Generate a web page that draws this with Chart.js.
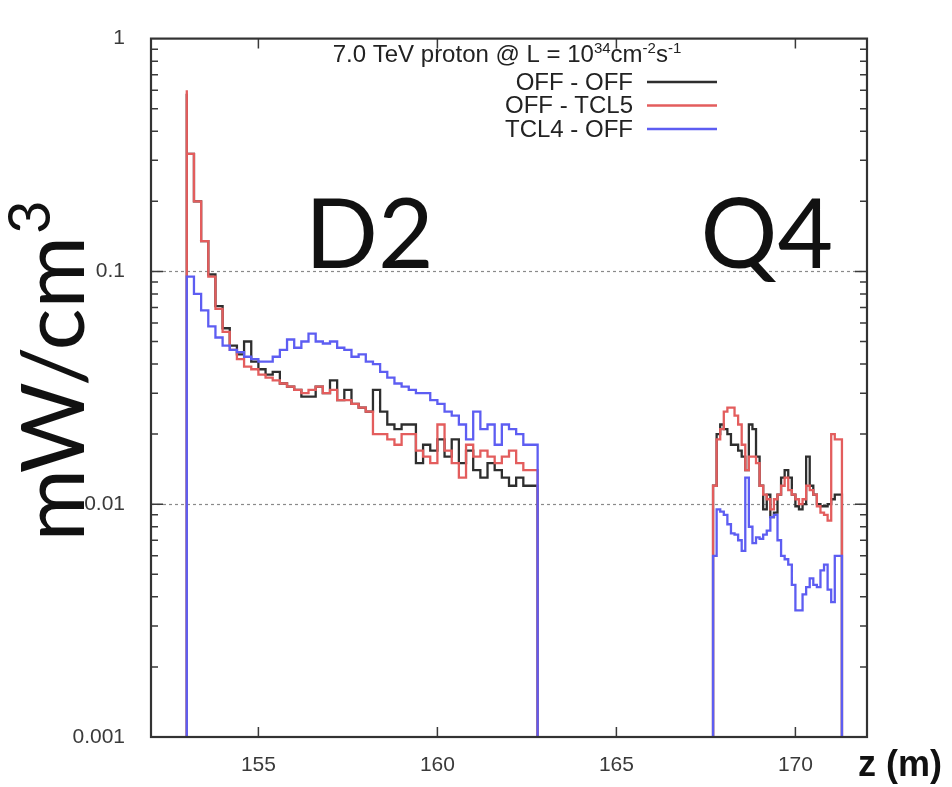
<!DOCTYPE html>
<html>
<head>
<meta charset="utf-8">
<script src="https://cdn.jsdelivr.net/npm/chart.js@4/dist/chart.umd.min.js"></script>
<style>
  html, body { margin: 0; padding: 0; background: #ffffff; }
  #wrap { width: 952px; height: 787px; position: relative; }
</style>
</head>
<body>
<div id="wrap"><canvas id="c" width="952" height="787"></canvas></div>
<script>
// Axis ticks
const zTicks = [155, 160, 165, 170];
const yTicks = [0.001, 0.01, 0.1, 1];

// Series
const seriesNames = ['OFF - OFF', 'OFF - TCL5', 'TCL4 - OFF'];
const seriesColors = ['#2e2e2e', '#e35d5d', '#5d5df2'];

// Histogram binning (z in m)
const d2Start = 153.0, d2BinWidth = 0.2;
const q4Start = 167.7, q4BinWidth = 0.1;

// Power density in D2 (mW/cm3), 0.2 m bins from 153.0 m
const offOffD2 = [0.58, 0.32, 0.20, 0.135, 0.097, 0.071, 0.057, 0.048, 0.044, 0.050,
                  0.041, 0.038, 0.036, 0.037, 0.033, 0.032, 0.031, 0.029, 0.029, 0.032,
                  0.030, 0.034, 0.028, 0.031, 0.027, 0.026, 0.025, 0.031, 0.025, 0.022,
                  0.021, 0.022, 0.022, 0.015, 0.018, 0.017, 0.019, 0.016, 0.019, 0.015,
                  0.017, 0.014, 0.013, 0.015, 0.014, 0.013, 0.012, 0.013, 0.012];
const offTcl5D2 = [0.60, 0.32, 0.20, 0.135, 0.095, 0.069, 0.055, 0.046, 0.042, 0.039,
                   0.038, 0.036, 0.035, 0.034, 0.033, 0.032, 0.031, 0.030, 0.031, 0.032,
                   0.030, 0.031, 0.028, 0.028, 0.027, 0.026, 0.025, 0.020, 0.020, 0.019,
                   0.018, 0.020, 0.020, 0.017, 0.016, 0.015, 0.022, 0.017, 0.015, 0.013,
                   0.018, 0.016, 0.017, 0.016, 0.015, 0.016, 0.017, 0.015, 0.014];
const tcl4OffD2 = [0.088, 0.095, 0.080, 0.068, 0.058, 0.052, 0.048, 0.046, 0.045, 0.043,
                   0.042, 0.041, 0.041, 0.043, 0.046, 0.051, 0.047, 0.050, 0.054, 0.050,
                   0.049, 0.050, 0.047, 0.046, 0.043, 0.044, 0.041, 0.040, 0.037, 0.035,
                   0.033, 0.032, 0.031, 0.030, 0.030, 0.028, 0.027, 0.025, 0.024, 0.022,
                   0.019, 0.025, 0.021, 0.022, 0.018, 0.022, 0.021, 0.020, 0.018];

// Power density in Q4 (mW/cm3), 0.1 m bins from 167.7 m
const offOffQ4 = [0.012, 0.012, 0.020, 0.022, 0.021, 0.020, 0.018, 0.018, 0.017, 0.016,
                  0.014, 0.022, 0.021, 0.016, 0.012, 0.0095, 0.011, 0.0088, 0.0092, 0.011,
                  0.013, 0.014, 0.013, 0.011, 0.0098, 0.0095, 0.010, 0.016, 0.012, 0.011,
                  0.010, 0.0098, 0.0098, 0.010, 0.0105, 0.011];
const offTcl5Q4 = [0.0062, 0.012, 0.019, 0.021, 0.025, 0.026, 0.026, 0.024, 0.022, 0.018,
                   0.014, 0.016, 0.016, 0.015, 0.012, 0.011, 0.0105, 0.0095, 0.0105, 0.011,
                   0.012, 0.013, 0.0115, 0.011, 0.0105, 0.010, 0.0105, 0.012, 0.0115, 0.011,
                   0.0098, 0.0092, 0.0090, 0.0085, 0.020, 0.019];
const tcl4OffQ4 = [0.0060, 0.0060, 0.0095, 0.0093, 0.0090, 0.0082, 0.0075, 0.0074, 0.0070, 0.0063,
                   0.013, 0.0080, 0.0068, 0.0072, 0.0071, 0.0074, 0.0077, 0.0088, 0.0090, 0.0070,
                   0.0060, 0.0058, 0.0055, 0.0045, 0.0035, 0.0035, 0.0041, 0.0044, 0.0048, 0.0045,
                   0.0044, 0.0052, 0.0055, 0.0043, 0.0038, 0.0060];

const yMin = 0.001, yMax = 1;

// Step outline of one histogram block, closed down to the axis floor
function histBlock(start, width, vals) {
  const pts = [{ x: start, y: yMin }];
  vals.forEach((v, i) => pts.push({ x: start + i * width, y: v }));
  const end = start + vals.length * width;
  pts.push({ x: end, y: vals[vals.length - 1] });
  pts.push({ x: end, y: yMin });
  return pts;
}
function histSeries(d2, q4) {
  return histBlock(d2Start, d2BinWidth, d2).concat([{ x: 165, y: null }], histBlock(q4Start, q4BinWidth, q4));
}

const makeSet = (k, d2, q4) => ({
  label: seriesNames[k],
  data: histSeries(d2, q4),
  borderColor: seriesColors[k],
  borderWidth: 2.3,
  pointRadius: 0,
  stepped: 'after',
  spanGaps: false,
  fill: false
});

const tickFont = { family: '"Liberation Sans", Arial, sans-serif', size: 21 };

// Frame, inward ticks, dashed decade lines and annotations
const decorations = {
  id: 'decorations',
  beforeDatasetsDraw(chart) {
    const { ctx, chartArea: a, scales: { x, y } } = chart;
    ctx.save();
    ctx.strokeStyle = '#8a8a8a';
    ctx.lineWidth = 1.2;
    ctx.setLineDash([3, 3]);
    [0.1, 0.01].forEach(v => {
      const py = Math.round(y.getPixelForValue(v)) + 0.5;
      ctx.beginPath(); ctx.moveTo(a.left, py); ctx.lineTo(a.right, py); ctx.stroke();
    });
    ctx.setLineDash([]);

    // Magnet names
    ctx.fillStyle = '#111';
    ctx.font = '96px Lato, "Open Sans", sans-serif';
    ctx.textBaseline = 'alphabetic';
    ctx.textAlign = 'left';
    ctx.fillText('D2', x.getPixelForValue(156.3), 268);
    ctx.fillText('Q4', x.getPixelForValue(167.35), 268);
    ctx.restore();
  },
  afterDraw(chart) {
    const { ctx, chartArea: a, scales: { x, y } } = chart;
    ctx.save();
    ctx.strokeStyle = '#3a3a3a';
    ctx.lineWidth = 1.5;
    // minor and major ticks on left/right
    for (let e = -3; e < 0; e++) {
      for (let m = 1; m <= 9; m++) {
        const v = m * Math.pow(10, e);
        const py = y.getPixelForValue(v);
        const len = m === 1 ? 12 : 7;
        ctx.beginPath();
        ctx.moveTo(a.left, py); ctx.lineTo(a.left + len, py);
        ctx.moveTo(a.right, py); ctx.lineTo(a.right - len, py);
        ctx.stroke();
      }
    }
    zTicks.forEach(z => {
      const px = x.getPixelForValue(z);
      ctx.beginPath();
      ctx.moveTo(px, a.bottom); ctx.lineTo(px, a.bottom - 10);
      ctx.moveTo(px, a.top); ctx.lineTo(px, a.top + 10);
      ctx.stroke();
    });
    // frame
    ctx.lineWidth = 2.2;
    ctx.strokeStyle = '#333';
    ctx.strokeRect(a.left, a.top, a.right - a.left, a.bottom - a.top);

    // x-axis title
    ctx.fillStyle = '#111';
    ctx.font = 'bold 36px "Liberation Sans", Arial, sans-serif';
    ctx.textAlign = 'left';
    ctx.textBaseline = 'middle';
    ctx.fillText('z (m)', 858, 766);

    // y-axis title, rotated
    ctx.save();
    ctx.translate(84, 372);
    ctx.rotate(-Math.PI / 2);
    ctx.textBaseline = 'alphabetic';
    ctx.textAlign = 'left';
    const main = 'mW/cm';
    ctx.font = '88px Lato, "Open Sans", sans-serif';
    const wMain = ctx.measureText(main).width;
    ctx.font = '58px Lato, "Open Sans", sans-serif';
    const wSup = ctx.measureText('3').width;
    const x0 = -(wMain + wSup) / 2;
    ctx.font = '88px Lato, "Open Sans", sans-serif';
    ctx.fillText(main, x0, 0);
    ctx.font = '58px Lato, "Open Sans", sans-serif';
    ctx.fillText('3', x0 + wMain + 2, -34);
    ctx.restore();

    // legend block
    const lf = '"Liberation Sans", Arial, sans-serif';
    const parts = [
      ['7.0 TeV proton @ L = 10', 0], ['34', 1], ['cm', 0], ['-2', 1], ['s', 0], ['-1', 1]
    ];
    const big = '24px ' + lf, small = '15px ' + lf;
    let total = 0;
    parts.forEach(p => { ctx.font = p[1] ? small : big; total += ctx.measureText(p[0]).width; });
    let cx = 507 - total / 2;
    ctx.fillStyle = '#222';
    ctx.textBaseline = 'alphabetic';
    ctx.textAlign = 'left';
    parts.forEach(p => {
      ctx.font = p[1] ? small : big;
      ctx.fillText(p[0], cx, p[1] ? 53 : 62);
      cx += ctx.measureText(p[0]).width;
    });
    ctx.font = big;
    ctx.textAlign = 'right';
    ctx.textBaseline = 'middle';
    seriesNames.forEach((n, i) => {
      const ly = 82 + i * 23.5;
      ctx.fillStyle = '#222';
      ctx.fillText(n, 633, ly + 1);
      ctx.strokeStyle = seriesColors[i];
      ctx.lineWidth = 2.3;
      ctx.beginPath(); ctx.moveTo(647, ly); ctx.lineTo(717, ly); ctx.stroke();
    });
    ctx.restore();
  }
};

new Chart(document.getElementById('c'), {
  type: 'line',
  data: {
    datasets: [
      makeSet(2, tcl4OffD2, tcl4OffQ4),
      makeSet(1, offTcl5D2, offTcl5Q4),
      makeSet(0, offOffD2, offOffQ4)
    ]
  },
  options: {
    responsive: false,
    animation: false,
    devicePixelRatio: 1,
    layout: { padding: { left: 0, right: 85, top: 22, bottom: 0 } },
    plugins: { legend: { display: false }, tooltip: { enabled: false } },
    scales: {
      x: {
        type: 'linear',
        min: 152, max: 172,
        afterBuildTicks: s => { s.ticks = zTicks.map(v => ({ value: v })); },
        afterFit: s => { s.height = 50; },
        grid: { display: false, drawTicks: false },
        border: { display: false },
        ticks: { font: tickFont, color: '#3a3a3a', padding: 16, maxRotation: 0,
                 callback: v => String(v) }
      },
      y: {
        type: 'logarithmic',
        min: yMin, max: yMax,
        afterBuildTicks: s => { s.ticks = yTicks.map(v => ({ value: v })); },
        afterFit: s => { s.width = 151; },
        grid: { display: false, drawTicks: false },
        border: { display: false },
        ticks: { font: tickFont, color: '#3a3a3a', padding: 26,
                 callback: v => (v === 1 ? '1' : String(v)) }
      }
    }
  },
  plugins: [decorations]
});
</script>
</body>
</html>
